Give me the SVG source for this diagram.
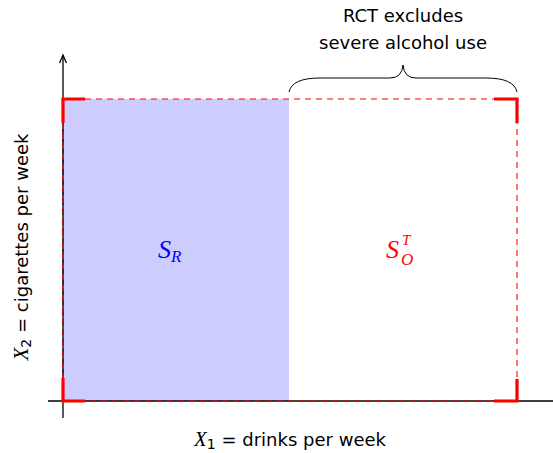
<svg xmlns="http://www.w3.org/2000/svg" width="553" height="453" viewBox="0 0 553 453">
<style>
.lbl{font-family:"DejaVu Sans","Open Sans",sans-serif;font-size:18px;fill:#000}
.math{font-family:"Liberation Serif","DejaVu Serif",serif;font-style:italic}
.corner{fill:none;stroke:#ff0000;stroke-width:3.2;stroke-linecap:butt;stroke-linejoin:miter}
</style>
<defs>
<marker id="arr" viewBox="0 0 10 10" refX="8" refY="5" markerWidth="10" markerHeight="10" markerUnits="userSpaceOnUse" orient="auto">
<path d="M1,1.5 Q5,3.5 9,5 Q5,6.5 1,8.5" fill="none" stroke="#000" stroke-width="1.3"/>
</marker>
</defs>
<g id="region-R">
<rect x="63" y="99" width="226" height="302" fill="#ccccff"/>
<line x1="63" y1="99" x2="63" y2="401" stroke="#1a1a80" stroke-width="1" stroke-dasharray="6,4"/>
</g>
<g id="axes">
<line x1="48" y1="401" x2="553" y2="401" stroke="#000" stroke-width="1.3"/>
<line x1="63" y1="418" x2="63" y2="56" stroke="#000" stroke-width="1.3" marker-end="url(#arr)"/>
</g>
<g id="region-O">
<rect x="63" y="99" width="454" height="302" fill="none" stroke="#ff0000" stroke-width="1.1" stroke-dasharray="6,5"/>
<path class="corner" d="M85,99 H63 V123"/>
<path class="corner" d="M494,99 H517 V123"/>
<path class="corner" d="M85,401 H63 V378"/>
<path class="corner" d="M494,401 H517 V379"/>
</g>
<g id="brace">
<path d="M289,92 Q292,78 320,78 H390 Q402,78 403,65 Q404,78 416,78 H486 Q514,78 517,92" fill="none" stroke="#000" stroke-width="1"/>
<text class="lbl" x="403" y="22" text-anchor="middle">RCT excludes</text>
<text class="lbl" x="403" y="49" text-anchor="middle">severe alcohol use</text>
</g>
<g id="labels">
<text x="158" y="258" class="math" font-size="26" fill="#0000ff">S<tspan font-size="17" dy="4">R</tspan></text>
<text x="386" y="258" class="math" font-size="26" fill="#ff0000">S</text>
<text x="402" y="245" class="math" font-size="15" fill="#ff0000">T</text>
<text x="401" y="265" class="math" font-size="17" fill="#ff0000">O</text>
<text class="lbl" x="290" y="446" text-anchor="middle"><tspan class="math" font-size="21">X</tspan><tspan font-size="14" dy="3">1</tspan><tspan dy="-3"> = drinks per week</tspan></text>
<text class="lbl" transform="translate(28,247) rotate(-90)" text-anchor="middle"><tspan class="math" font-size="21">X</tspan><tspan font-size="14" dy="3">2</tspan><tspan dy="-3"> = cigarettes per week</tspan></text>
</g>
</svg>
